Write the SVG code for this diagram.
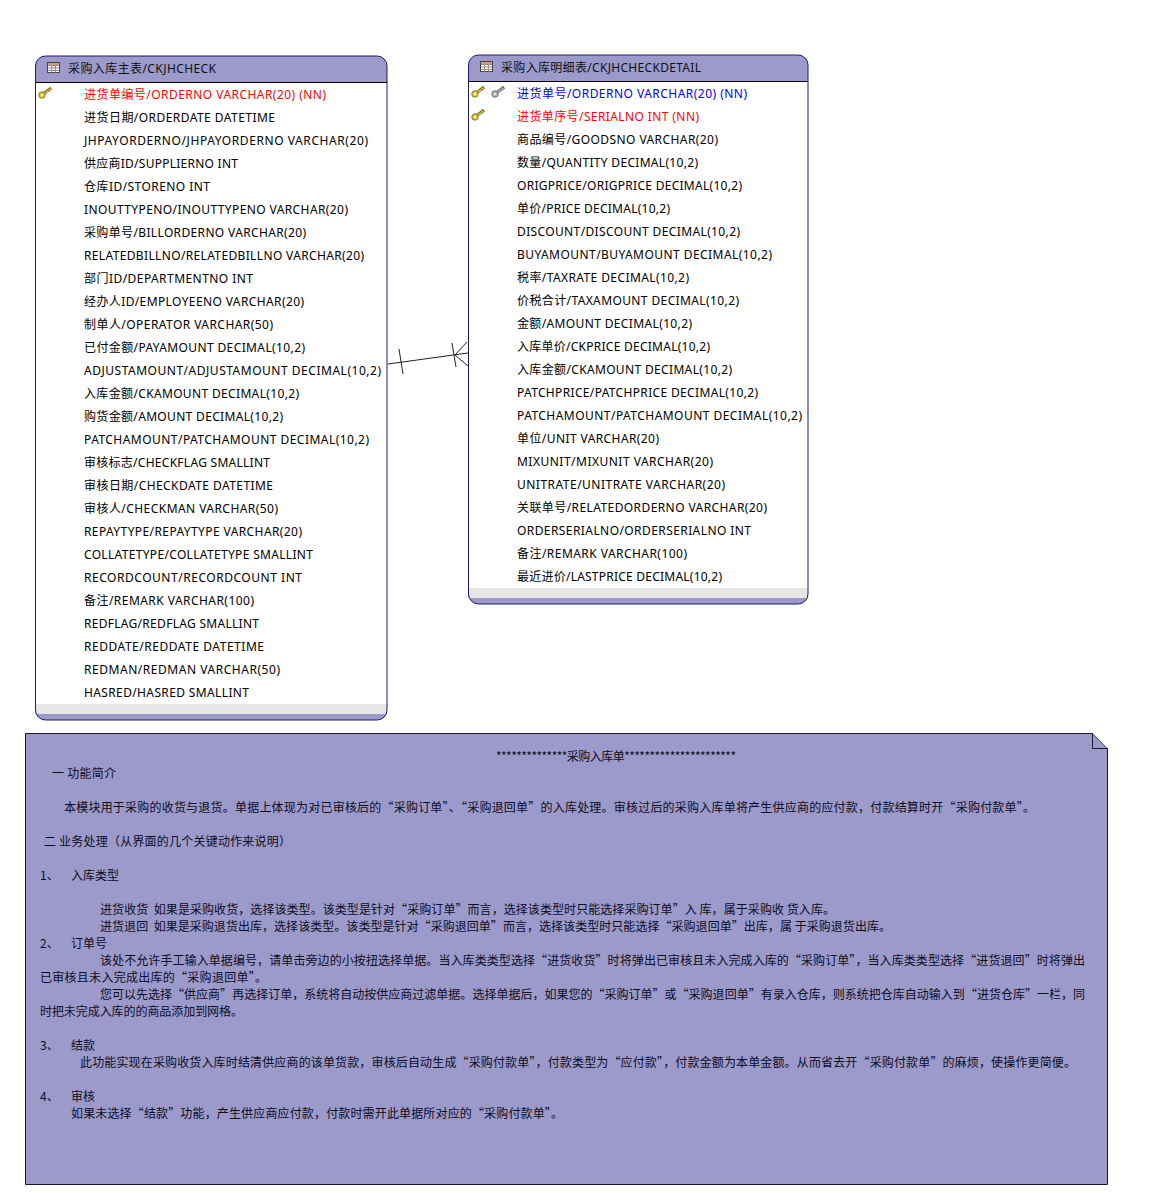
<svg xmlns="http://www.w3.org/2000/svg" width="1171" height="1195" viewBox="0 0 1171 1195">
<style>
text{font-family:"Noto Sans","Noto Sans CJK SC",sans-serif;font-size:12px;fill:#000;white-space:pre}
.t{fill:#111}
.red{fill:#f00}.blue{fill:#00f}
.head{fill:#9c9acb}
.box{fill:none;stroke:#1a1a6e;stroke-width:1}
.hl{stroke:#000;stroke-width:1;fill:none}
.foot{fill:#e6e6e6}
.conn{stroke:#222;stroke-width:1;fill:none}
.note{fill:#9c9acb;stroke:#1a1a2e;stroke-width:1}
#note text{font-family:"Noto Sans CJK SC","Noto Sans",sans-serif;fill:#0c0c1e}
</style>
<defs>
<g id="key"><path d="M4 10 L13 3" stroke="#8a7a20" stroke-width="3" fill="none"/><path d="M5 9.500 L13 3.500" stroke="#f4e880" stroke-width="1" fill="none"/><circle cx="4" cy="10" r="3.200" fill="#e8c830" stroke="#8a7a20"/><circle cx="4" cy="10" r="1" fill="#fff"/><path d="M10 4.500l2 2M12 3l1.500 2" stroke="#8a7a20"/></g>
<g id="keyg"><path d="M4 10 L13 3" stroke="#707070" stroke-width="3" fill="none"/><path d="M5 9.500 L13 3.500" stroke="#ddd" stroke-width="1" fill="none"/><circle cx="4" cy="10" r="3.200" fill="#b4b4b4" stroke="#707070"/><circle cx="4" cy="10" r="1" fill="#fff"/><path d="M10 4.500l2 2M12 3l1.500 2" stroke="#707070"/></g>
<g id="tbl"><rect x="0.500" y="0.500" width="12" height="10" fill="#fff" stroke="#444"/><rect x="1" y="1" width="11" height="2.500" fill="#c9a27a"/><path d="M1 3.500H12M1 6H12M1 8.500H12M4.500 3.500V10.500M8.500 3.500V10.500" stroke="#a09080" stroke-width="1" fill="none"/></g>
</defs>
<rect width="1171" height="1195" fill="#fff"/>

<g id="table-ckjhcheck">
<path d="M35.500 82.500V66a10 10 0 0 1 10-10H377a10 10 0 0 1 10 10V82.500Z" class="head"/>
<rect x="35.500" y="704" width="351.500" height="10" class="foot"/>
<path d="M35.500 714H387V710a10 10 0 0 1-10 10H45.500a10 10 0 0 1-10-10Z" class="head"/>
<path d="M35.500 66a10 10 0 0 1 10-10H377a10 10 0 0 1 10 10V710a10 10 0 0 1-10 10H45.500a10 10 0 0 1-10-10Z" class="box"/>
<path d="M35.500 82.500H387" class="hl"/>
<use href="#tbl" x="47" y="62"/>
<text x="68" y="73" class="t" textLength="148">采购入库主表/CKJHCHECK</text>
<use href="#key" x="38" y="85"/>
<text x="84" y="99" class="red" textLength="242">进货单编号/ORDERNO VARCHAR(20) (NN)</text>
<text x="84" y="122" textLength="191">进货日期/ORDERDATE DATETIME</text>
<text x="84" y="145" textLength="284">JHPAYORDERNO/JHPAYORDERNO VARCHAR(20)</text>
<text x="84" y="168" textLength="154">供应商ID/SUPPLIERNO INT</text>
<text x="84" y="191" textLength="126">仓库ID/STORENO INT</text>
<text x="84" y="214" textLength="264">INOUTTYPENO/INOUTTYPENO VARCHAR(20)</text>
<text x="84" y="237" textLength="222">采购单号/BILLORDERNO VARCHAR(20)</text>
<text x="84" y="260" textLength="280">RELATEDBILLNO/RELATEDBILLNO VARCHAR(20)</text>
<text x="84" y="283" textLength="169">部门ID/DEPARTMENTNO INT</text>
<text x="84" y="306" textLength="220">经办人ID/EMPLOYEENO VARCHAR(20)</text>
<text x="84" y="329" textLength="189">制单人/OPERATOR VARCHAR(50)</text>
<text x="84" y="352" textLength="221">已付金额/PAYAMOUNT DECIMAL(10,2)</text>
<text x="84" y="375" textLength="297">ADJUSTAMOUNT/ADJUSTAMOUNT DECIMAL(10,2)</text>
<text x="84" y="398" textLength="215">入库金额/CKAMOUNT DECIMAL(10,2)</text>
<text x="84" y="421" textLength="199">购货金额/AMOUNT DECIMAL(10,2)</text>
<text x="84" y="444" textLength="285">PATCHAMOUNT/PATCHAMOUNT DECIMAL(10,2)</text>
<text x="84" y="467" textLength="186">审核标志/CHECKFLAG SMALLINT</text>
<text x="84" y="490" textLength="189">审核日期/CHECKDATE DATETIME</text>
<text x="84" y="513" textLength="194">审核人/CHECKMAN VARCHAR(50)</text>
<text x="84" y="536" textLength="218">REPAYTYPE/REPAYTYPE VARCHAR(20)</text>
<text x="84" y="559" textLength="229">COLLATETYPE/COLLATETYPE SMALLINT</text>
<text x="84" y="582" textLength="218">RECORDCOUNT/RECORDCOUNT INT</text>
<text x="84" y="605" textLength="170">备注/REMARK VARCHAR(100)</text>
<text x="84" y="628" textLength="175">REDFLAG/REDFLAG SMALLINT</text>
<text x="84" y="651" textLength="180">REDDATE/REDDATE DATETIME</text>
<text x="84" y="674" textLength="196">REDMAN/REDMAN VARCHAR(50)</text>
<text x="84" y="697" textLength="165">HASRED/HASRED SMALLINT</text>
</g>

<g id="table-ckjhcheckdetail">
<path d="M468.500 81.500V65a10 10 0 0 1 10-10H798a10 10 0 0 1 10 10V81.500Z" class="head"/>
<rect x="468.500" y="588" width="339.500" height="10" class="foot"/>
<path d="M468.500 598H808V594a10 10 0 0 1-10 10H478.500a10 10 0 0 1-10-10Z" class="head"/>
<path d="M468.500 65a10 10 0 0 1 10-10H798a10 10 0 0 1 10 10V594a10 10 0 0 1-10 10H478.500a10 10 0 0 1-10-10Z" class="box"/>
<path d="M468.500 81.500H808" class="hl"/>
<use href="#tbl" x="480" y="61"/>
<text x="501" y="72" class="t" textLength="200">采购入库明细表/CKJHCHECKDETAIL</text>
<use href="#key" x="471" y="84"/>
<use href="#keyg" x="491" y="84"/>
<text x="517" y="98" class="blue" textLength="230">进货单号/ORDERNO VARCHAR(20) (NN)</text>
<use href="#key" x="471" y="107"/>
<text x="517" y="121" class="red" textLength="182">进货单序号/SERIALNO INT (NN)</text>
<text x="517" y="144" textLength="201">商品编号/GOODSNO VARCHAR(20)</text>
<text x="517" y="167" textLength="181">数量/QUANTITY DECIMAL(10,2)</text>
<text x="517" y="190" textLength="225">ORIGPRICE/ORIGPRICE DECIMAL(10,2)</text>
<text x="517" y="213" textLength="153">单价/PRICE DECIMAL(10,2)</text>
<text x="517" y="236" textLength="223">DISCOUNT/DISCOUNT DECIMAL(10,2)</text>
<text x="517" y="259" textLength="255">BUYAMOUNT/BUYAMOUNT DECIMAL(10,2)</text>
<text x="517" y="282" textLength="172">税率/TAXRATE DECIMAL(10,2)</text>
<text x="517" y="305" textLength="222">价税合计/TAXAMOUNT DECIMAL(10,2)</text>
<text x="517" y="328" textLength="175">金额/AMOUNT DECIMAL(10,2)</text>
<text x="517" y="351" textLength="193">入库单价/CKPRICE DECIMAL(10,2)</text>
<text x="517" y="374" textLength="215">入库金额/CKAMOUNT DECIMAL(10,2)</text>
<text x="517" y="397" textLength="241">PATCHPRICE/PATCHPRICE DECIMAL(10,2)</text>
<text x="517" y="420" textLength="285">PATCHAMOUNT/PATCHAMOUNT DECIMAL(10,2)</text>
<text x="517" y="443" textLength="142">单位/UNIT VARCHAR(20)</text>
<text x="517" y="466" textLength="196">MIXUNIT/MIXUNIT VARCHAR(20)</text>
<text x="517" y="489" textLength="208">UNITRATE/UNITRATE VARCHAR(20)</text>
<text x="517" y="512" textLength="250">关联单号/RELATEDORDERNO VARCHAR(20)</text>
<text x="517" y="535" textLength="234">ORDERSERIALNO/ORDERSERIALNO INT</text>
<text x="517" y="558" textLength="170">备注/REMARK VARCHAR(100)</text>
<text x="517" y="581" textLength="205">最近进价/LASTPRICE DECIMAL(10,2)</text>
</g>

<g id="connectors">
<path class="conn" d="M388 364L468 353M399 349L403 374M452 343L456 367M455 355L467 342M455 355L468 366"/>
</g>

<g id="note">
<path class="note" d="M25.500 733.500H1092.500L1107.500 748.500V1184.500H25.500Z"/>
<path class="note" d="M1092.500 733.500V748.500H1107.500"/>
<text x="496" y="761" textLength="240">**************采购入库单**********************</text>
<text x="52" y="778" textLength="64">一 功能简介</text>
<text x="64" y="812" textLength="971">本模块用于采购的收货与退货。单据上体现为对已审核后的“采购订单”、“采购退回单”的入库处理。审核过后的采购入库单将产生供应商的应付款，付款结算时开“采购付款单”。</text>
<text x="44" y="846" textLength="247">二 业务处理（从界面的几个关键动作来说明）</text>
<text x="40" y="880">1、</text>
<text x="71" y="880">入库类型</text>
<text x="100" y="914" textLength="735">进货收货  如果是采购收货，选择该类型。该类型是针对“采购订单”而言，选择该类型时只能选择采购订单”入 库，属于采购收 货入库。</text>
<text x="100" y="931" textLength="791">进货退回  如果是采购退货出库，选择该类型。该类型是针对“采购退回单”而言，选择该类型时只能选择“采购退回单”出库，属 于采购退货出库。</text>
<text x="40" y="948">2、</text>
<text x="71" y="948">订单号</text>
<text x="100" y="965" textLength="985">该处不允许手工输入单据编号，请单击旁边的小按扭选择单据。当入库类类型选择“进货收货”时将弹出已审核且未入完成入库的“采购订单”，当入库类类型选择“进货退回”时将弹出</text>
<text x="40" y="982" textLength="227">已审核且未入完成出库的“采购退回单”。</text>
<text x="100" y="999" textLength="985">您可以先选择“供应商”再选择订单，系统将自动按供应商过滤单据。选择单据后，如果您的“采购订单”或“采购退回单”有录入仓库，则系统把仓库自动输入到“进货仓库”一栏，同</text>
<text x="40" y="1016" textLength="203">时把未完成入库的的商品添加到网格。</text>
<text x="40" y="1050">3、</text>
<text x="71" y="1050">结款</text>
<text x="80" y="1067" textLength="996">此功能实现在采购收货入库时结清供应商的该单货款，审核后自动生成“采购付款单”，付款类型为“应付款”，付款金额为本单金额。从而省去开“采购付款单”的麻烦，使操作更简便。</text>
<text x="40" y="1101">4、</text>
<text x="71" y="1101">审核</text>
<text x="71" y="1118" textLength="492">如果未选择“结款”功能，产生供应商应付款，付款时需开此单据所对应的“采购付款单”。</text>
</g>
</svg>
